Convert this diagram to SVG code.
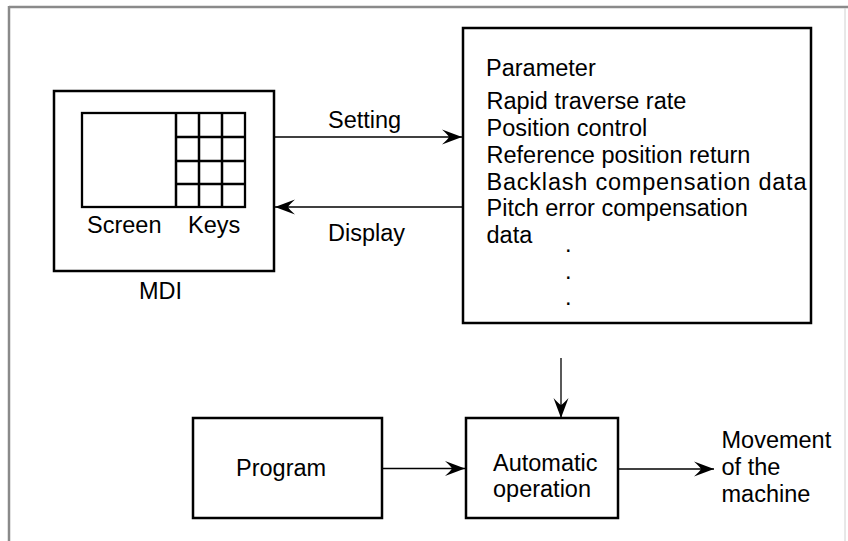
<svg xmlns="http://www.w3.org/2000/svg" width="848" height="541" viewBox="0 0 848 541">
<defs>
<style>
text{font-family:"Liberation Sans",Arial,sans-serif;font-size:23.5px;fill:#000}
.box{fill:#fff;stroke:#000;stroke-width:2.5}
.grid{fill:none;stroke:#000;stroke-width:2.5}
.conn{fill:none;stroke:#000;stroke-width:1.3}
</style>
<marker id="arr" viewBox="-20 -8 22 16" refX="0" refY="0" markerWidth="22" markerHeight="16" markerUnits="userSpaceOnUse" orient="auto">
<path d="M0,0 L-20,-7.5 Q-14,-2 -13,0 Q-14,2 -20,7.5 Z" fill="#000"/>
</marker>
</defs>
<rect width="848" height="541" fill="#fff"/>
<g id="frame">
<line x1="9" y1="7" x2="848" y2="7" stroke="#8a8a8a" stroke-width="2.5"/>
<line x1="9" y1="6" x2="9" y2="541" stroke="#8a8a8a" stroke-width="2.5"/>
<line x1="845" y1="8" x2="845" y2="541" stroke="#d0d0d0" stroke-width="1"/>
</g>
<g id="mdi">
<rect class="box" x="54" y="91" width="220" height="180"/>
<rect x="82" y="113" width="163" height="94" fill="none" stroke="#000" stroke-width="2.3"/>
<path class="grid" d="M176,113 V207 M199,113 V207 M222,113 V207 M176,137 H245 M176,161 H245 M176,184 H245"/>
<text x="87" y="233">Screen</text>
<text x="188" y="233">Keys</text>
<text x="139" y="299">MDI</text>
</g>
<g id="parameter">
<rect class="box" x="463" y="28" width="348" height="295"/>
<text x="486" y="76">Parameter</text>
<text x="486.5" y="109">Rapid traverse rate</text>
<text x="486.5" y="136">Position control</text>
<text x="486.5" y="163">Reference position return</text>
<text x="486.5" y="189.5" textLength="320" lengthAdjust="spacing">Backlash compensation data</text>
<text x="486.5" y="216">Pitch error compensation</text>
<text x="486.5" y="242.5">data</text>
<text x="565" y="252">.</text>
<text x="565" y="278.5">.</text>
<text x="565" y="304.5">.</text>
</g>
<g id="program">
<rect class="box" x="193" y="418" width="189" height="100"/>
<text x="236" y="476">Program</text>
</g>
<g id="automatic">
<rect class="box" x="466" y="418" width="152" height="100"/>
<text x="493" y="470.5">Automatic</text>
<text x="493" y="497">operation</text>
</g>
<g id="movement">
<text x="721.5" y="448">Movement</text>
<text x="721.5" y="474.5">of the</text>
<text x="721.5" y="501.5">machine</text>
</g>
<g id="connectors">
<line class="conn" x1="274" y1="137" x2="462" y2="137" marker-end="url(#arr)"/>
<line class="conn" x1="463" y1="207" x2="275" y2="207" marker-end="url(#arr)"/>
<line class="conn" x1="561" y1="358" x2="561" y2="418" marker-end="url(#arr)"/>
<line class="conn" x1="382" y1="468.5" x2="465" y2="468.5" marker-end="url(#arr)"/>
<line class="conn" x1="618" y1="469" x2="714" y2="469" marker-end="url(#arr)"/>
<text x="328" y="128">Setting</text>
<text x="328" y="241">Display</text>
</g>
</svg>
